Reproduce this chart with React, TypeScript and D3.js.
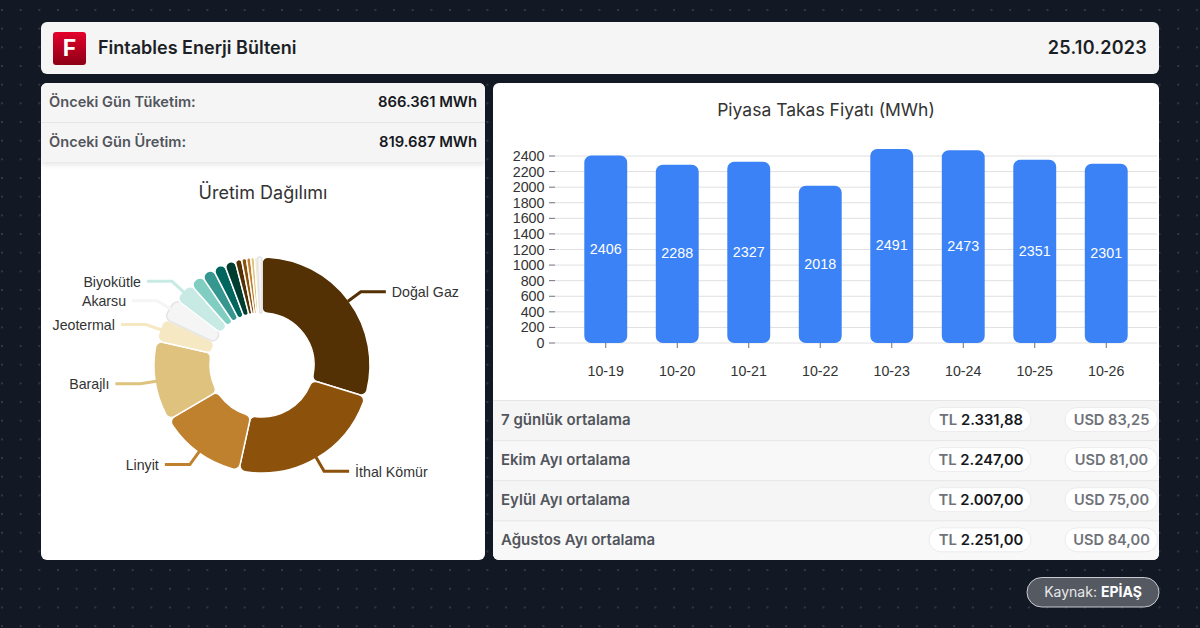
import React from "react";
import * as d3 from "d3";

const W = 1200;
const H = 628;
const UI_FONT = "Inter, 'Noto Sans', sans-serif";
const CHART_FONT = "'Liberation Sans', Arial, sans-serif";

// Bar chart data
const days = ["10-19", "10-20", "10-21", "10-22", "10-23", "10-24", "10-25", "10-26"];
const prices = [2406, 2288, 2327, 2018, 2491, 2473, 2351, 2301];
const priceTicks = [0, 200, 400, 600, 800, 1000, 1200, 1400, 1600, 1800, 2000, 2200, 2400];

// Donut data (MWh)
const sources = [
  "Doğal Gaz", "İthal Kömür", "Linyit", "Barajlı", "Jeotermal", "Akarsu", "Biyokütle",
  "", "", "", "", "", "", "", "", "", "",
];
const production = [
  243500, 194500, 107200, 99000, 28500, 27300, 25000,
  17000, 16000, 15000, 13600, 8000, 6100, 5200, 4500, 3500, 5700,
];
const palette = [
  "#543005", "#8c510a", "#bf812d", "#dfc27d", "#f6e8c3", "#f5f5f5", "#c7eae5",
  "#80cdc1", "#35978f", "#01665e", "#003c30",
  "#543005", "#8c510a", "#bf812d", "#dfc27d", "#f6e8c3", "#f5f5f5",
];

// Text tables
const summaryLabels = ["Önceki Gün Tüketim:", "Önceki Gün Üretim:"];
const summaryValues = ["866.361 MWh", "819.687 MWh"];
const avgLabels = ["7 günlük ortalama", "Ekim Ayı ortalama", "Eylül Ayı ortalama", "Ağustos Ayı ortalama"];
const avgTl = ["2.331,88", "2.247,00", "2.007,00", "2.251,00"];
const avgUsd = ["83,25", "81,00", "75,00", "84,00"];

const y = d3.scaleLinear().domain([0, 2400]).range([343, 156]);
const x = d3.scaleBand<string>().domain(days).range([570, 1142]).paddingInner(0.4).paddingOuter(0.2);

const CX = 262;
const CY = 365;
const R_OUT = 108;
const R_IN = 52;

const pieGen = d3.pie<number>().sort(null).value((d) => d);
const arcs = pieGen(production);
const arcGen = d3.arc<d3.PieArcDatum<number>>().innerRadius(R_IN).outerRadius(R_OUT).cornerRadius(6);

function roundedBar(x0: number, y0: number, w: number, h: number, r: number) {
  const p = d3.path();
  p.moveTo(x0 + r, y0);
  p.lineTo(x0 + w - r, y0);
  p.arcTo(x0 + w, y0, x0 + w, y0 + r, r);
  p.lineTo(x0 + w, y0 + h - r);
  p.arcTo(x0 + w, y0 + h, x0 + w - r, y0 + h, r);
  p.lineTo(x0 + r, y0 + h);
  p.arcTo(x0, y0 + h, x0, y0 + h - r, r);
  p.lineTo(x0, y0 + r);
  p.arcTo(x0, y0, x0 + r, y0, r);
  p.closePath();
  return p.toString();
}

function leader(a: d3.PieArcDatum<number>) {
  const mid = (a.startAngle + a.endAngle) / 2;
  const sx = Math.sin(mid);
  const sy = -Math.cos(mid);
  const p0: [number, number] = [CX + sx * (R_OUT - 1), CY + sy * (R_OUT - 1)];
  const p1: [number, number] = [CX + sx * (R_OUT + 15), CY + sy * (R_OUT + 15)];
  const dir = sx >= 0 ? 1 : -1;
  const p2: [number, number] = [p1[0] + dir * 25, p1[1]];
  return { pts: [p0, p1, p2], dir, tx: p2[0] + dir * 6, ty: p2[1] };
}

export default function App() {
  const line = d3.line();
  return (
    <svg
      width={W}
      height={H}
      viewBox={`0 0 ${W} ${H}`}
      style={{ position: "absolute", left: 0, top: 0, display: "block" }}
    >
      <defs>
        <pattern id="dots" x="1" y="9" width="18.67" height="18.67" patternUnits="userSpaceOnUse">
          <rect x="0.4" y="0.4" width="1.2" height="1.2" fill="#666a76" />
        </pattern>
        <linearGradient id="logo" x1="0" y1="0" x2="0" y2="1">
          <stop offset="0" stopColor="#e4002b" />
          <stop offset="1" stopColor="#8c0016" />
        </linearGradient>
        <filter id="rowShadow" x="-5%" y="-20%" width="110%" height="150%">
          <feDropShadow dx="0" dy="2" stdDeviation="3" floodColor="#000" floodOpacity="0.12" />
        </filter>
        <clipPath id="leftCard"><rect x="41" y="83" width="444" height="477" rx="6" /></clipPath>
        <clipPath id="rightCard"><rect x="493" y="83" width="666" height="477" rx="6" /></clipPath>
      </defs>

      <rect width={W} height={H} fill="#131825" />
      <rect width={W} height={H} fill="url(#dots)" />

      {/* Header */}
      <rect x="41" y="22" width="1118" height="52" rx="6" fill="#f5f5f5" />
      <rect x="53" y="32" width="33" height="33" rx="3" fill="url(#logo)" />
      <text x="69.5" y="56" textAnchor="middle" fill="#fff" fontFamily={UI_FONT} fontWeight="700" fontSize="23">F</text>
      <text x="98" y="54" fill="#1c1f26" fontFamily={UI_FONT} fontWeight="600" fontSize="18">Fintables Enerji Bülteni</text>
      <text x="1147" y="54" textAnchor="end" fill="#1c1f26" fontFamily={UI_FONT} fontWeight="600" fontSize="18" letterSpacing="0.25">25.10.2023</text>

      {/* Left card */}
      <rect x="41" y="83" width="444" height="477" rx="6" fill="#fff" />
      <g clipPath="url(#leftCard)">
        <rect x="41" y="83" width="444" height="79" fill="#f5f5f5" filter="url(#rowShadow)" />
        <line x1="41" x2="485" y1="122.5" y2="122.5" stroke="#e6e6e6" />
        {summaryLabels.map((s, i) => (
          <g key={s} fontFamily={UI_FONT} fontWeight="600">
            <text x="49" y={107 + i * 40} fill="#52555c" fontSize="14.6">{s}</text>
            <text x="477" y={107 + i * 40} textAnchor="end" fill="#17191e" fontSize="14.8">{summaryValues[i]}</text>
          </g>
        ))}
      </g>
      <text x="263" y="199" textAnchor="middle" fill="#333" fontFamily={UI_FONT} fontSize="18">Üretim Dağılımı</text>

      {/* Donut */}
      <g transform={`translate(${CX},${CY})`}>
        {arcs.map((a, i) => (
          <path
            key={i}
            d={arcGen(a) ?? ""}
            fill={palette[i]}
            stroke={palette[i] === "#f5f5f5" ? "#e4e4e6" : "#fff"}
            strokeWidth="1.5"
          />
        ))}
      </g>
      {arcs.map((a, i) => {
        if (!sources[i]) return null;
        const l = leader(a);
        return (
          <g key={sources[i]}>
            <path d={line(l.pts as [number, number][]) ?? ""} fill="none" stroke={palette[i]} strokeWidth="3" />
            <text
              x={l.tx}
              y={l.ty + 5.5}
              textAnchor={l.dir > 0 ? "start" : "end"}
              fill="#333"
              fontFamily={CHART_FONT}
              fontSize="14.2"
            >
              {sources[i]}
            </text>
          </g>
        );
      })}

      {/* Right card */}
      <rect x="493" y="83" width="666" height="477" rx="6" fill="#fff" />
      <text x="826" y="116" textAnchor="middle" fill="#333" fontFamily={UI_FONT} fontSize="17.5">Piyasa Takas Fiyatı (MWh)</text>

      {/* Bar chart */}
      {priceTicks.map((t) => (
        <g key={t}>
          <line x1="555" x2="1157" y1={y(t)} y2={y(t)} stroke="#e0e0e0" strokeWidth="1" />
          <line x1="549" x2="555" y1={y(t)} y2={y(t)} stroke="#6e7079" strokeWidth="1" />
          <text x="544.5" y={y(t) + 5} textAnchor="end" fill="#333" fontFamily={CHART_FONT} fontSize="14.3">{t}</text>
        </g>
      ))}
      {days.map((d, i) => {
        const bx = x(d) as number;
        const bw = x.bandwidth();
        const top = y(prices[i]);
        const cx = bx + bw / 2;
        return (
          <g key={d}>
            <line x1={cx} x2={cx} y1="343" y2="348" stroke="#6e7079" />
            <path d={roundedBar(bx, top, bw, 343 - top, 7)} fill="#3b82f6" />
            <text x={cx} y={(top + 343) / 2 + 4.5} textAnchor="middle" fill="#fff" fontFamily={CHART_FONT} fontSize="14.3">{prices[i]}</text>
            <text x={cx} y="376" textAnchor="middle" fill="#333" fontFamily={CHART_FONT} fontSize="14.2">{d}</text>
          </g>
        );
      })}

      {/* Averages table */}
      <g clipPath="url(#rightCard)">
        {avgLabels.map((s, i) => {
          const ry = 400 + i * 40.1;
          return (
            <g key={s}>
              <rect x="493" y={ry} width="666" height="40.2" fill={i % 2 === 0 ? "#f5f5f5" : "#f8f8f8"} />
              <line x1="493" x2="1159" y1={ry + 0.5} y2={ry + 0.5} stroke="#e6e6e6" />
              <text x="501" y={ry + 25} fill="#52555c" fontFamily={UI_FONT} fontSize="15" fontWeight="600">{s}</text>
              <rect x="929" y={ry + 7.5} width="102" height="24" rx="12" fill="#fff" stroke="#ececec" />
              <text x="981" y={ry + 25} textAnchor="middle" fontFamily={UI_FONT} fontSize="14.8" fontWeight="600">
                <tspan fill="#6f7278">TL </tspan>
                <tspan fill="#17191e">{avgTl[i]}</tspan>
              </text>
              <rect x="1065" y={ry + 7.5} width="92.5" height="24" rx="12" fill="#fff" stroke="#ececec" />
              <text x="1111.5" y={ry + 25} textAnchor="middle" fill="#6f7278" fontFamily={UI_FONT} fontSize="14.6" fontWeight="600">
                USD {avgUsd[i]}
              </text>
            </g>
          );
        })}
      </g>

      {/* Source badge */}
      <rect x="1027" y="577.5" width="132" height="29.5" rx="14.7" fill="#555962" stroke="#c9cbd0" strokeWidth="1" />
      <text x="1093" y="597" textAnchor="middle" fill="#e8e8ea" fontFamily={UI_FONT} fontSize="14">
        Kaynak: <tspan fontWeight="700" fill="#fff">EPİAŞ</tspan>
      </text>
    </svg>
  );
}
